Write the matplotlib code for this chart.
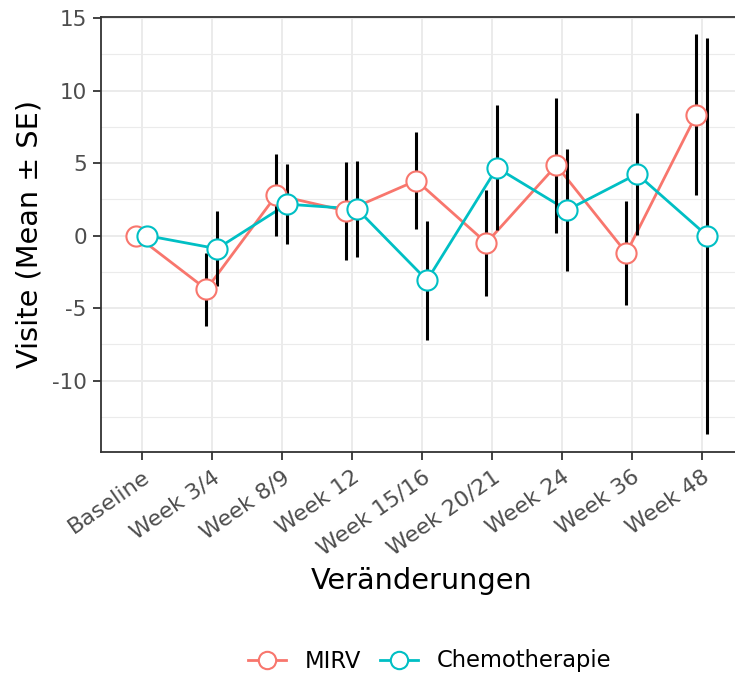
import matplotlib
matplotlib.use("Agg")
import matplotlib.pyplot as plt
from matplotlib.lines import Line2D
from matplotlib.ticker import MultipleLocator
import numpy as np

# --- Daten: Mittelwert und SE je Visite ---
visits = ["Baseline", "Week 3/4", "Week 8/9", "Week 12", "Week 15/16",
          "Week 20/21", "Week 24", "Week 36", "Week 48"]
mirv_mean = [0.0, -3.7, 2.8, 1.7, 3.8, -0.5, 4.85, -1.2, 8.35]
mirv_se = [0.0, 2.5, 2.85, 3.37, 3.37, 3.65, 4.65, 3.56, 5.55]
chemo_mean = [0.0, -0.9, 2.17, 1.84, -3.08, 4.68, 1.76, 4.25, 0.0]
chemo_se = [0.0, 2.6, 2.75, 3.3, 4.1, 4.3, 4.2, 4.2, 13.65]

groups = ["MIRV", "Chemotherapie"]
colors = ["#F8766D", "#00BFC4"]

plt.rcParams["font.family"] = ["DejaVu Sans"]
plt.rcParams["axes.unicode_minus"] = False

DODGE = 0.076
x = np.arange(1, len(visits) + 1)

fig = plt.figure(figsize=(7.35, 6.75), dpi=100)
ax = fig.add_axes([100.7 / 735, 1 - 451.7 / 675, 642.0 / 735, 435.0 / 675])

series = [(mirv_mean, mirv_se, -DODGE), (chemo_mean, chemo_se, DODGE)]

# Linien unten, dann Fehlerbalken, dann Punkte
for (mean, se, off), col in zip(series, colors):
    ax.plot(x + off, mean, "-", color=col, lw=2.0, zorder=2)
for mean, se, off in series:
    ax.errorbar(x + off, mean, yerr=se, fmt="none", ecolor="black",
                elinewidth=2.2, capsize=0, zorder=3)
for (mean, se, off), col in zip(series, colors):
    ax.plot(x + off, mean, "o", ms=14.5, mfc="white", mec=col, mew=1.5,
            zorder=4, clip_on=False)

# --- Achsen im Stil theme_bw ---
ax.set_xlim(1 - 41 / 70, len(visits) + 41 / 70)
ax.set_ylim(-14.9, 15.1)
ax.set_xticks(x)
ax.set_xticklabels(visits, rotation=35, ha="right", rotation_mode="anchor",
                   fontsize=16, color="#4D4D4D")
ax.yaxis.set_major_locator(MultipleLocator(5))
ax.yaxis.set_minor_locator(MultipleLocator(2.5))
ax.tick_params(axis="y", which="major", labelsize=15.5, labelcolor="#4D4D4D",
               color="#333333", length=6, width=1.3, pad=4)
ax.tick_params(axis="x", which="major", color="#333333", length=6, width=1.3, pad=5)
ax.tick_params(axis="y", which="minor", length=0)

ax.grid(True, which="major", color="#EBEBEB", lw=1.4, zorder=0)
ax.grid(True, which="minor", axis="y", color="#EBEBEB", lw=0.8, zorder=0)
ax.set_axisbelow(True)
for sp in ax.spines.values():
    sp.set_color("#333333")
    sp.set_linewidth(1.3)

ax.set_xlabel("Veränderungen", fontsize=20.7, labelpad=6)
ax.set_ylabel("Visite (Mean ± SE)", fontsize=20.7, labelpad=6)

# --- Legende unten ---
handles = [Line2D([], [], color=c, lw=2.0, marker="o", ms=12.5, mfc="white",
                  mec=c, mew=1.5) for c in colors]
fig.legend(handles, groups, loc="center", bbox_to_anchor=(430 / 735, 1 - 661 / 675),
           ncol=2, frameon=False, fontsize=16.3, handlelength=1.65,
           columnspacing=0.85, handletextpad=0.85)

fig.savefig("out.png", dpi=100)
